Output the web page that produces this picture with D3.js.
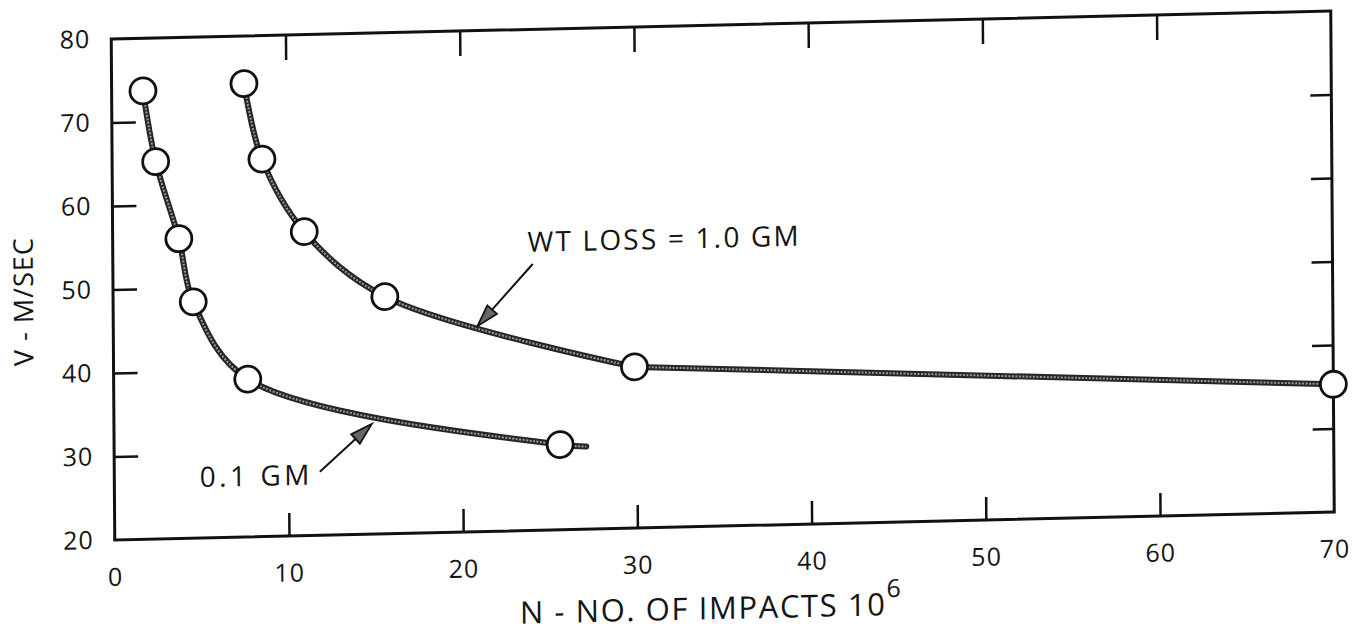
<!DOCTYPE html>
<html>
<head>
<meta charset="utf-8">
<script src="https://cdn.jsdelivr.net/npm/d3@7"></script>
<style>
  html, body { margin: 0; padding: 0; background: #fff; }
  svg { display: block; }
  text { font-family: "Open Sans", "DejaVu Sans", sans-serif; fill: #151515; }
</style>
</head>
<body>
<svg id="chart" width="1359" height="637"></svg>
<script>
// ---- data ----
const xTickValues = [0, 10, 20, 30, 40, 50, 60, 70];
const xInnerTicks = [10, 20, 30, 40, 50, 60];
const yTickValues = [20, 30, 40, 50, 60, 70, 80];
const yInnerTicks = [30, 40, 50, 60, 70];

// WT LOSS = 0.1 GM
const lowLossN = [1.8, 2.5, 3.8, 4.6, 7.7, 25.6];
const lowLossV = [73.7, 65.2, 55.9, 48.3, 38.9, 30.2];
const lowLossTail = [27.1, 29.9];   // end of drawn curve past last point

// WT LOSS = 1.0 GM
const highLossN = [7.6, 8.6, 11.0, 15.6, 29.9, 70];
const highLossV = [74.3, 65.2, 56.4, 48.4, 39.3, 35.3];

const xTitle = "N - NO. OF IMPACTS 10";
const xTitleSup = "6";
const yTitle = "V - M/SEC";
const labelHigh = "WT LOSS = 1.0 GM";
const labelLow = "0.1 GM";

// annotation anchors in data units: [text x, text y, arrow tail x, tail y, tip x, tip y]
const annHigh = [23.8, 53.35, 24.1, 51.9, 20.9, 44.6];
const annLow = [4.9, 26.1, 11.8, 27.6, 14.8, 33.2];

// ---- layout ----
const W = 1219.5, H = 501;
const FONT = '"Open Sans", "DejaVu Sans", sans-serif';
const svg = d3.select("#chart");
// scanned page is slightly skewed: apply the same affine distortion
const g = svg.append("g")
  .attr("transform", `matrix(1, ${-28 / W}, ${3.5 / H}, 1, 111.25, 39)`);

const x = d3.scaleLinear().domain([0, 70]).range([0, W]);
const y = d3.scaleLinear().domain([20, 80]).range([H, 0]);

function styleAxis(sel) {
  sel.select(".domain").remove();
  sel.selectAll(".tick line").attr("stroke", "#111").attr("stroke-width", 2.5);
  sel.selectAll(".tick text").attr("font-size", 25).attr("fill", "#151515")
    .attr("letter-spacing", 1).attr("font-family", FONT);
}

// bottom axis with labels
g.append("g").attr("transform", `translate(0,${H})`)
  .call(d3.axisBottom(x).tickValues(xTickValues).tickSizeInner(-23).tickSizeOuter(0).tickPadding(28).tickFormat(d3.format("d")))
  .call(styleAxis)
  .call(s => s.selectAll(".tick").filter(d => d === 0 || d === 70).select("line").remove());

// top ticks
g.append("g")
  .call(d3.axisTop(x).tickValues(xInnerTicks).tickSizeInner(-25).tickSizeOuter(0).tickFormat(""))
  .call(styleAxis);

// left axis with labels
g.append("g")
  .call(d3.axisLeft(y).tickValues(yTickValues).tickSizeInner(-24).tickSizeOuter(0).tickPadding(21).tickFormat(d3.format("d")))
  .call(styleAxis)
  .call(s => s.selectAll(".tick").filter(d => d === 20 || d === 80).select("line").remove());

// right ticks
g.append("g").attr("transform", `translate(${W},0)`)
  .call(d3.axisRight(y).tickValues(yInnerTicks).tickSizeInner(-21).tickSizeOuter(0).tickFormat(""))
  .call(styleAxis);

// frame
g.append("rect").attr("x", 0).attr("y", 0).attr("width", W).attr("height", H)
  .attr("fill", "none").attr("stroke", "#111").attr("stroke-width", 3);

// curves (French-curve through the points; the long flat tail is drawn straight)
const smooth = d3.line().x(d => x(d[0])).y(d => y(d[1])).curve(d3.curveCatmullRom.alpha(0.5));
const straight = d3.line().x(d => x(d[0])).y(d => y(d[1]));
const lowPts = lowLossN.map((n, i) => [n, lowLossV[i]]);
const highPts = highLossN.map((n, i) => [n, highLossV[i]]);
const lowD = smooth(lowPts.concat([lowLossTail]));
const highD = smooth(highPts.slice(0, 5)) + straight(highPts.slice(4)).replace(/^M/, "L");

[lowD, highD].forEach(dStr => {
  g.append("path").attr("d", dStr).attr("fill", "none")
    .attr("stroke", "#262626").attr("stroke-width", 6).attr("stroke-linecap", "round");
  g.append("path").attr("d", dStr).attr("fill", "none")
    .attr("stroke", "#9a9a9a").attr("stroke-width", 2).attr("stroke-dasharray", "2 1.5");
});

// markers
[lowPts, highPts].forEach(pts => {
  g.append("g").selectAll("circle").data(pts).join("circle")
    .attr("cx", d => x(d[0])).attr("cy", d => y(d[1])).attr("r", 13)
    .attr("fill", "#fff").attr("stroke", "#111").attr("stroke-width", 2.8);
});

// annotations
function arrow(a) {
  const x1 = x(a[2]), y1 = y(a[3]), x2 = x(a[4]), y2 = y(a[5]);
  const ang = Math.atan2(y2 - y1, x2 - x1);
  const L = 22, Wd = 6.5;
  const bx = x2 - L * Math.cos(ang), by = y2 - L * Math.sin(ang);
  g.append("line").attr("x1", x1).attr("y1", y1).attr("x2", bx).attr("y2", by)
    .attr("stroke", "#111").attr("stroke-width", 2);
  const px = -Math.sin(ang) * Wd, py = Math.cos(ang) * Wd;
  g.append("path")
    .attr("d", `M${x2},${y2}L${bx + px},${by + py}L${bx - px},${by - py}Z`)
    .attr("fill", "#666").attr("stroke", "#111").attr("stroke-width", 1.8);
}
arrow(annHigh);
arrow(annLow);

g.append("text").attr("x", x(annHigh[0])).attr("y", y(annHigh[1]))
  .attr("font-size", 28).attr("letter-spacing", 2.2).text(labelHigh);
g.append("text").attr("x", x(annLow[0])).attr("y", y(annLow[1]))
  .attr("font-size", 28).attr("letter-spacing", 3.5).text(labelLow);

// axis titles
const xt = g.append("text").attr("x", x(34.2)).attr("y", H + 93)
  .attr("text-anchor", "middle").attr("font-size", 31).attr("letter-spacing", 1.6);
xt.append("tspan").text(xTitle);
xt.append("tspan").attr("dy", -18).attr("font-size", 25).text(xTitleSup);

g.append("text").attr("transform", `translate(-80,${H * 0.52}) rotate(-90)`)
  .attr("text-anchor", "middle").attr("font-size", 27).attr("letter-spacing", 1).text(yTitle);
</script>
</body>
</html>
